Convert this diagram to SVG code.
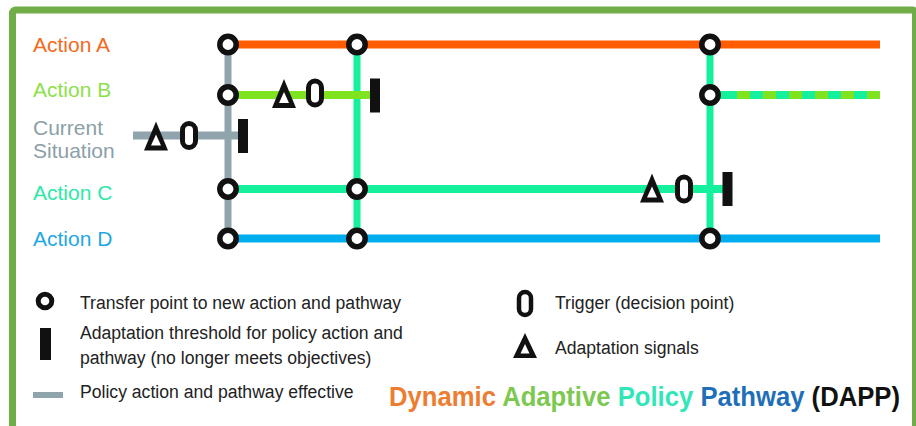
<svg xmlns="http://www.w3.org/2000/svg" width="916" height="426" viewBox="0 0 916 426">
  <defs>
    <style>
      .lbl { font-family: "Liberation Sans", Arial, sans-serif; font-size: 21px; }
      .leg { font-family: "Liberation Sans", Arial, sans-serif; font-size: 17.6px; fill: #222; }
      .ttl { font-family: "Liberation Sans", Arial, sans-serif; font-size: 27px; font-weight: bold; }
      .line { fill: none; stroke-width: 8; stroke-linecap: butt; }
      .vline { fill: none; stroke-width: 7; }
      .xfer { fill: #fff; stroke: #111; stroke-width: 5.5; }
    </style>
    <!-- transfer point -->
    <circle id="xp" r="8.2" class="xfer"/>
    <!-- trigger (decision point) -->
    <rect id="trig" x="-6.5" y="-12" width="13" height="24" rx="6.5" fill="#fff" stroke="#111" stroke-width="5"/>
    <!-- adaptation signal -->
    <g id="sig">
      <path d="M0,-15 L12,14 L-12,14 Z" fill="#111"/>
      <path d="M0,-2 L5,9 L-5,9 Z" fill="#fff"/>
    </g>
    <!-- adaptation threshold -->
    <rect id="thr" x="-5" y="-17" width="10" height="34" fill="#111"/>
  </defs>

  <!-- frame -->
  <rect x="12.5" y="10" width="903" height="440" rx="3" fill="#fff" stroke="#70AD47" stroke-width="7"/>

  <!-- row labels -->
  <g id="labels">
    <text class="lbl" x="33" y="52" fill="#F26B21">Action A</text>
    <text class="lbl" x="33" y="97" fill="#8DE04C">Action B</text>
    <text class="lbl" x="33" y="135" fill="#8C9FA7">Current</text>
    <text class="lbl" x="33" y="158" fill="#8C9FA7">Situation</text>
    <text class="lbl" x="33" y="200" fill="#2DE8A6">Action C</text>
    <text class="lbl" x="33" y="246" fill="#1FA8E3">Action D</text>
  </g>

  <!-- connectors: pathways -->
  <g id="connectors">
    <line class="vline" x1="228" y1="44.5" x2="228" y2="238.5" stroke="#8FA4AC"/>
    <line class="vline" x1="357" y1="44.5" x2="357" y2="238.5" stroke="#14F09C"/>
    <line class="vline" x1="710" y1="44.5" x2="710" y2="238.5" stroke="#14F09C"/>
    <line class="line" x1="133" y1="135.5" x2="242" y2="135.5" stroke="#8FA4AC"/>
    <line class="line" x1="228" y1="44.5" x2="880" y2="44.5" stroke="#FF5C00"/>
    <line class="line" x1="228" y1="95" x2="376" y2="95" stroke="#7FE320"/>
    <line class="line" x1="710" y1="95" x2="880" y2="95" stroke="#14F09C"/>
    <line class="line" x1="737" y1="95" x2="880" y2="95" stroke="#7FE320" stroke-dasharray="13 13"/>
    <line class="line" x1="228" y1="189" x2="727" y2="189" stroke="#14F09C"/>
    <line class="line" x1="228" y1="238.5" x2="880" y2="238.5" stroke="#00AEEF"/>
  </g>

  <!-- transfer points -->
  <g id="transfer-points">
    <use href="#xp" x="228" y="44.5"/>
    <use href="#xp" x="357" y="44.5"/>
    <use href="#xp" x="710" y="44.5"/>
    <use href="#xp" x="228" y="95"/>
    <use href="#xp" x="710" y="95"/>
    <use href="#xp" x="228" y="189"/>
    <use href="#xp" x="357" y="189"/>
    <use href="#xp" x="228" y="238.5"/>
    <use href="#xp" x="357" y="238.5"/>
    <use href="#xp" x="710" y="238.5"/>
  </g>

  <!-- signals, triggers, thresholds -->
  <g id="current-markers">
    <use href="#sig" x="156" y="136.5"/>
    <use href="#trig" x="189" y="135.5"/>
    <use href="#thr" x="243" y="136"/>
  </g>
  <g id="actionB-markers">
    <use href="#sig" x="284" y="94"/>
    <use href="#trig" x="315" y="93"/>
    <use href="#thr" x="375" y="95.5"/>
  </g>
  <g id="actionC-markers">
    <use href="#sig" x="652" y="188.5"/>
    <use href="#trig" x="684" y="189"/>
    <use href="#thr" x="727.5" y="189"/>
  </g>

  <!-- legend -->
  <g id="legend">
    <circle cx="45" cy="301" r="6.8" fill="#fff" stroke="#111" stroke-width="5"/>
    <text class="leg" x="80" y="309">Transfer point to new action and pathway</text>
    <rect x="40" y="328" width="11" height="32" fill="#111"/>
    <text class="leg" x="80" y="339">Adaptation threshold for policy action and</text>
    <text class="leg" x="80" y="364">pathway (no longer meets objectives)</text>
    <rect x="33" y="392" width="30" height="6" fill="#8FA4AC"/>
    <text class="leg" x="80" y="398">Policy action and pathway effective</text>
    <rect x="519" y="292" width="12" height="23" rx="6" fill="#fff" stroke="#111" stroke-width="4.5"/>
    <text class="leg" x="555" y="309">Trigger (decision point)</text>
    <path d="M525,333 L537,358 L513,358 Z" fill="#111"/>
    <path d="M525,344 L529.5,353.5 L520.5,353.5 Z" fill="#fff"/>
    <text class="leg" x="555" y="354">Adaptation signals</text>
  </g>

  <!-- title -->
  <text class="ttl" x="389" y="406" textLength="511" lengthAdjust="spacingAndGlyphs"><tspan fill="#ED7D31">Dynamic</tspan> <tspan fill="#7DC850">Adaptive</tspan> <tspan fill="#33E6B8">Policy</tspan> <tspan fill="#1F6FB8">Pathway</tspan> <tspan fill="#111">(DAPP)</tspan></text>
</svg>
